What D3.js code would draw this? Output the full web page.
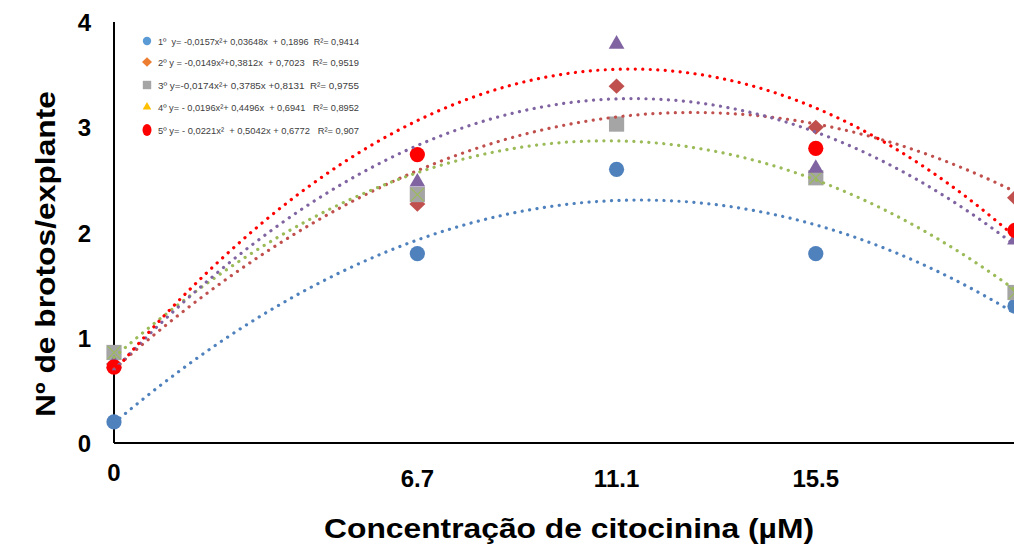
<!DOCTYPE html>
<html>
<head>
<meta charset="utf-8">
<script src="https://cdn.jsdelivr.net/npm/d3@7"></script>
<style>
  body { margin: 0; background: #fff; }
  svg { display: block; font-family: Arial, "Liberation Sans", sans-serif; }
</style>
</head>
<body>
<svg id="chart" width="1014" height="550"></svg>
<script>
(function() {

// concentrations (µM) and tick labels
const concentrations = [0, 6.7, 11.1, 15.5, 19.9];
const xTickValues = [0, 6.7, 11.1, 15.5];
const yTickValues = [0, 1, 2, 3, 4];

// mean shoots per explant, one array per series
const serie1 = [0.2, 1.8, 2.6, 1.8, 1.3];
const serie2 = [0.75, 2.27, 3.39, 3.0, 2.33];
const serie3 = [0.86, 2.36, 3.03, 2.52, 1.43];
const serie4 = [0.75, 2.48, 3.79, 2.61, 1.93];
const serie5 = [0.72, 2.74, null, 2.8, 2.02];
// green crosses seen on top of the gray squares
const crossValues = [0.86, 2.36, null, 2.52, 1.43];

// polynomial trend coefficients [a, b, c] for y = a x² + b x + c
const trend1 = [-0.0157, 0.3648, 0.1896];
const trend2 = [-0.0149, 0.3812, 0.7023];
const trend3 = [-0.0174, 0.3785, 0.8131];
const trend4 = [-0.0196, 0.4496, 0.6941];
const trend5 = [-0.0221, 0.5042, 0.6772];

// legend texts
const legendLabels = [
    "1º  y= -0,0157x²+ 0,03648x  + 0,1896  R²= 0,9414",
    "2º y = -0,0149x²+0,3812x  + 0,7023   R²= 0,9519",
    "3º y=-0,0174x²+ 0,3785x +0,8131  R²= 0,9755",
    "4º y= - 0,0196x²+ 0,4496x  + 0,6941   R²= 0,8952",
    "5º y= - 0,0221x²  + 0,5042x + 0,6772   R²= 0,907"
];

const series = [
    {values: serie1, trend: trend1, shape: "circle", fill: "#4F81BD", line: "#4F81BD", legendFill: "#5B9BD5"},
    {values: serie2, trend: trend2, shape: "diamond", fill: "#C0504D", line: "#C0504D", legendFill: "#ED7D31"},
    {values: serie3, trend: trend3, shape: "square", fill: "#A5A5A5", line: "#9BBB59", legendFill: "#A5A5A5"},
    {values: serie4, trend: trend4, shape: "triangle", fill: "#8064A2", line: "#8064A2", legendFill: "#FFC000"},
    {values: serie5, trend: trend5, shape: "circle", fill: "#FF0000", line: "#FF0000", legendFill: "#FF0000"}
];

const svg = d3.select("#chart");

const x = d3.scaleLinear().domain([0, 19.9]).range([114, 1015]);
const y = d3.scaleLinear().domain([0, 4]).range([443, 22]);

// axes lines
svg.append("line")
    .attr("x1", x(0)).attr("x2", x(0))
    .attr("y1", y(4)).attr("y2", y(0))
    .attr("stroke", "#000").attr("stroke-width", 2);
svg.append("line")
    .attr("x1", x(0)).attr("x2", 1014)
    .attr("y1", y(0)).attr("y2", y(0))
    .attr("stroke", "#000").attr("stroke-width", 2);

// tick labels
svg.append("g").selectAll("text")
    .data(yTickValues)
    .enter().append("text")
    .attr("x", 91)
    .attr("y", (d) => y(d) + 9)
    .attr("text-anchor", "end")
    .attr("font-size", 24)
    .attr("font-weight", "bold")
    .text((d) => d);

svg.append("g").selectAll("text")
    .data(xTickValues)
    .enter().append("text")
    .attr("x", (d) => x(d))
    .attr("y", (d) => d === 0 ? 481 : 487)
    .attr("text-anchor", "middle")
    .attr("font-size", 24)
    .attr("font-weight", "bold")
    .text((d) => d === 0 ? "0" : d3.format(".1f")(d));

// axis titles
svg.append("text")
    .attr("x", 569).attr("y", 538)
    .attr("text-anchor", "middle")
    .attr("font-size", 28)
    .attr("font-weight", "bold")
    .attr("textLength", 490)
    .attr("lengthAdjust", "spacingAndGlyphs")
    .text("Concentração de citocinina (µM)");

svg.append("text")
    .attr("transform", "translate(55,254) rotate(-90)")
    .attr("text-anchor", "middle")
    .attr("font-size", 28)
    .attr("font-weight", "bold")
    .attr("textLength", 326)
    .attr("lengthAdjust", "spacingAndGlyphs")
    .text("Nº de brotos/explante");

// markers
function marker(shape, r) {
    if (shape === "diamond") {
        return "M0," + (-r * 0.95) + "L" + r + ",0L0," + (r * 0.95) + "L" + (-r) + ",0Z";
    }
    const types = {circle: d3.symbolCircle, square: d3.symbolSquare, triangle: d3.symbolTriangle};
    const sizes = {circle: Math.PI * r * r, square: 4 * r * r, triangle: 1.85 * r * r};
    return d3.symbol().type(types[shape]).size(sizes[shape])();
}
const markerR = {circle: 7.6, diamond: 8, square: 7.6, triangle: 7.6};

function points(values) {
    return concentrations.map((c, i) => ({x: c, y: values[i]}))
        .filter((d) => d.y !== null);
}

series.forEach(function(s, k) {
    svg.append("g").selectAll("path")
        .data(points(s.values))
        .enter().append("path")
        .attr("transform", (d) => "translate(" + x(d.x) + "," + y(d.y) + ")")
        .attr("d", marker(s.shape, markerR[s.shape]))
        .attr("fill", s.fill);

    if (k === 2) {
        svg.append("g").selectAll("path")
            .data(points(crossValues))
            .enter().append("path")
            .attr("transform", (d) => "translate(" + x(d.x) + "," + y(d.y) + ")")
            .attr("d", d3.symbol().type(d3.symbolX).size(110))
            .attr("fill", "none")
            .attr("stroke", "#9BBB59")
            .attr("stroke-width", 1.1);
    }
});

// dotted polynomial trend lines
const xs = d3.range(0, 19.95, 0.1);
const line = d3.line()
    .x((d) => x(d[0]))
    .y((d) => y(d[1]))
    .curve(d3.curveMonotoneX);

series.forEach(function(s) {
    const t = s.trend;
    const pts = xs.map((v) => [v, t[0] * v * v + t[1] * v + t[2]]);
    svg.append("path")
        .datum(pts)
        .attr("d", line)
        .attr("fill", "none")
        .attr("stroke", s.line)
        .attr("stroke-width", 3.2)
        .attr("stroke-linecap", "round")
        .attr("stroke-dasharray", "0.1 7.4");
});

// legend
const legendY = [41, 62, 85, 107, 130];
const legend = svg.append("g");

series.forEach(function(s, i) {
    const ly = legendY[i];
    let sym;
    if (i === 4) {
        sym = legend.append("ellipse")
            .attr("cx", 147).attr("cy", ly)
            .attr("rx", 4.5).attr("ry", 6);
    } else {
        sym = legend.append("path")
            .attr("transform", "translate(147," + ly + ")")
            .attr("d", marker(s.shape, s.shape === "diamond" ? 5 : 4.2));
    }
    sym.attr("fill", s.legendFill);

    legend.append("text")
        .attr("x", 158)
        .attr("y", ly + 3.5)
        .attr("font-size", 9.5)
        .attr("fill", "#404040")
        .attr("textLength", 201)
        .attr("lengthAdjust", "spacingAndGlyphs")
        .style("white-space", "pre")
        .text(legendLabels[i]);
});

})();
</script>
</body>
</html>
